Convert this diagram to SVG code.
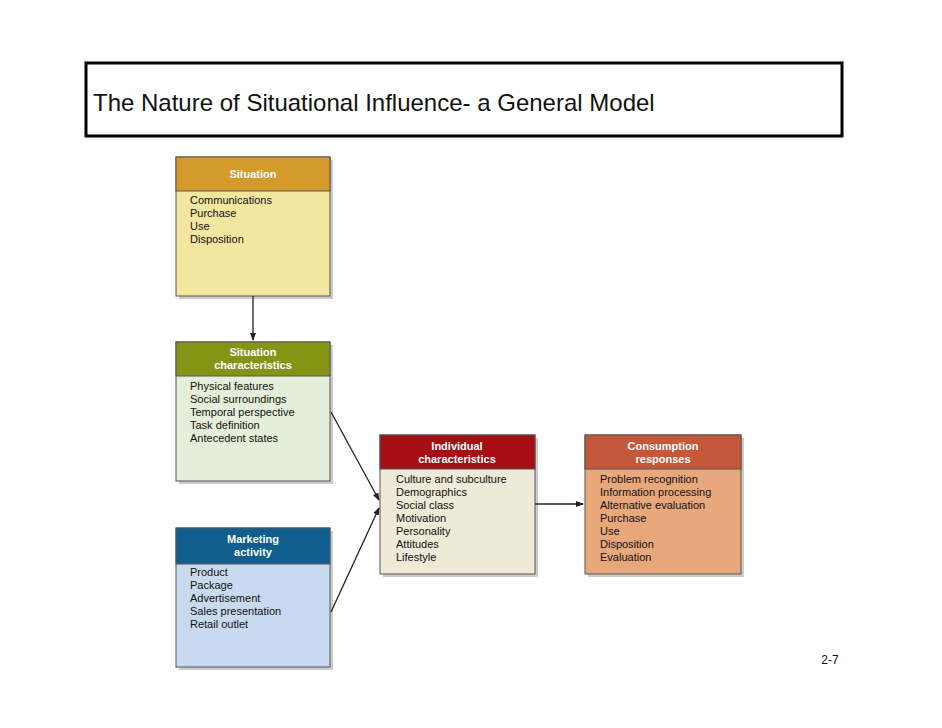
<svg xmlns="http://www.w3.org/2000/svg" width="942" height="728" viewBox="0 0 942 728">
<style>
text{font-family:"Liberation Sans",Arial,sans-serif}
.h{fill:#fff;font-weight:bold;font-size:11px;text-anchor:middle}
.b{fill:#111;font-size:11px}
.box{stroke:#555;stroke-width:1}
.sh{fill:#999;opacity:.5}
.c{stroke:#222;stroke-width:1.3;fill:none;marker-end:url(#a)}
</style>
<defs><marker id="a" markerWidth="8" markerHeight="8" refX="7" refY="4" orient="auto" markerUnits="userSpaceOnUse"><path d="M0,1 L8,4 L0,7 z" fill="#222"/></marker></defs>
<rect width="942" height="728" fill="#fff"/>
<g id="title"><rect x="86" y="63" width="756" height="73" fill="none" stroke="#000" stroke-width="3"/>
<text x="93" y="111" font-size="24" fill="#111">The Nature of Situational Influence- a General Model</text></g>
<g id="situation"><rect class="sh" x="179" y="160" width="154" height="139"/><rect class="box" x="176" y="157" width="154" height="139" fill="#f3e7a0"/><rect x="176" y="157" width="154" height="34" fill="#d49b2c" class="box"/>
<text class="h" x="253" y="178">Situation</text>
<text class="b" x="190" y="204">Communications</text><text class="b" x="190" y="217">Purchase</text><text class="b" x="190" y="230">Use</text><text class="b" x="190" y="243">Disposition</text></g>
<g id="sitchar"><rect class="sh" x="179" y="345" width="154" height="139"/><rect class="box" x="176" y="342" width="154" height="139" fill="#e4efd9"/><rect x="176" y="342" width="154" height="34" fill="#849516" class="box"/>
<text class="h" x="253" y="356">Situation</text><text class="h" x="253" y="369">characteristics</text>
<text class="b" x="190" y="390">Physical features</text><text class="b" x="190" y="403">Social surroundings</text><text class="b" x="190" y="416">Temporal perspective</text><text class="b" x="190" y="429">Task definition</text><text class="b" x="190" y="442">Antecedent states</text></g>
<g id="marketing"><rect class="sh" x="179" y="531" width="154" height="139"/><rect class="box" x="176" y="528" width="154" height="139" fill="#c9daf0"/><rect x="176" y="528" width="154" height="36" fill="#0f5e8e" class="box"/>
<text class="h" x="253" y="543">Marketing</text><text class="h" x="253" y="556">activity</text>
<text class="b" x="190" y="576">Product</text><text class="b" x="190" y="589">Package</text><text class="b" x="190" y="602">Advertisement</text><text class="b" x="190" y="615">Sales presentation</text><text class="b" x="190" y="628">Retail outlet</text></g>
<g id="individual"><rect class="sh" x="383" y="438" width="155" height="139"/><rect class="box" x="380" y="435" width="155" height="139" fill="#efe9d8"/><rect x="380" y="435" width="155" height="34" fill="#a60e14" class="box"/>
<text class="h" x="457" y="450">Individual</text><text class="h" x="457" y="463">characteristics</text>
<text class="b" x="396" y="483">Culture and subculture</text><text class="b" x="396" y="496">Demographics</text><text class="b" x="396" y="509">Social class</text><text class="b" x="396" y="522">Motivation</text><text class="b" x="396" y="535">Personality</text><text class="b" x="396" y="548">Attitudes</text><text class="b" x="396" y="561">Lifestyle</text></g>
<g id="consumption"><rect class="sh" x="588" y="438" width="156" height="139"/><rect class="box" x="585" y="435" width="156" height="139" fill="#e9a77c"/><rect x="585" y="435" width="156" height="34" fill="#c5573a" class="box"/>
<text class="h" x="663" y="450">Consumption</text><text class="h" x="663" y="463">responses</text>
<text class="b" x="600" y="483">Problem recognition</text><text class="b" x="600" y="496">Information processing</text><text class="b" x="600" y="509">Alternative evaluation</text><text class="b" x="600" y="522">Purchase</text><text class="b" x="600" y="535">Use</text><text class="b" x="600" y="548">Disposition</text><text class="b" x="600" y="561">Evaluation</text></g>
<g id="connectors">
<path class="c" d="M253,296 L253,340"/>
<path class="c" d="M331,412 L379,500"/>
<path class="c" d="M331,612 L379,508"/>
<path class="c" d="M535,504 L583,504"/>
</g>
<text x="830" y="664" font-size="12" fill="#111" text-anchor="middle">2-7</text>
</svg>
